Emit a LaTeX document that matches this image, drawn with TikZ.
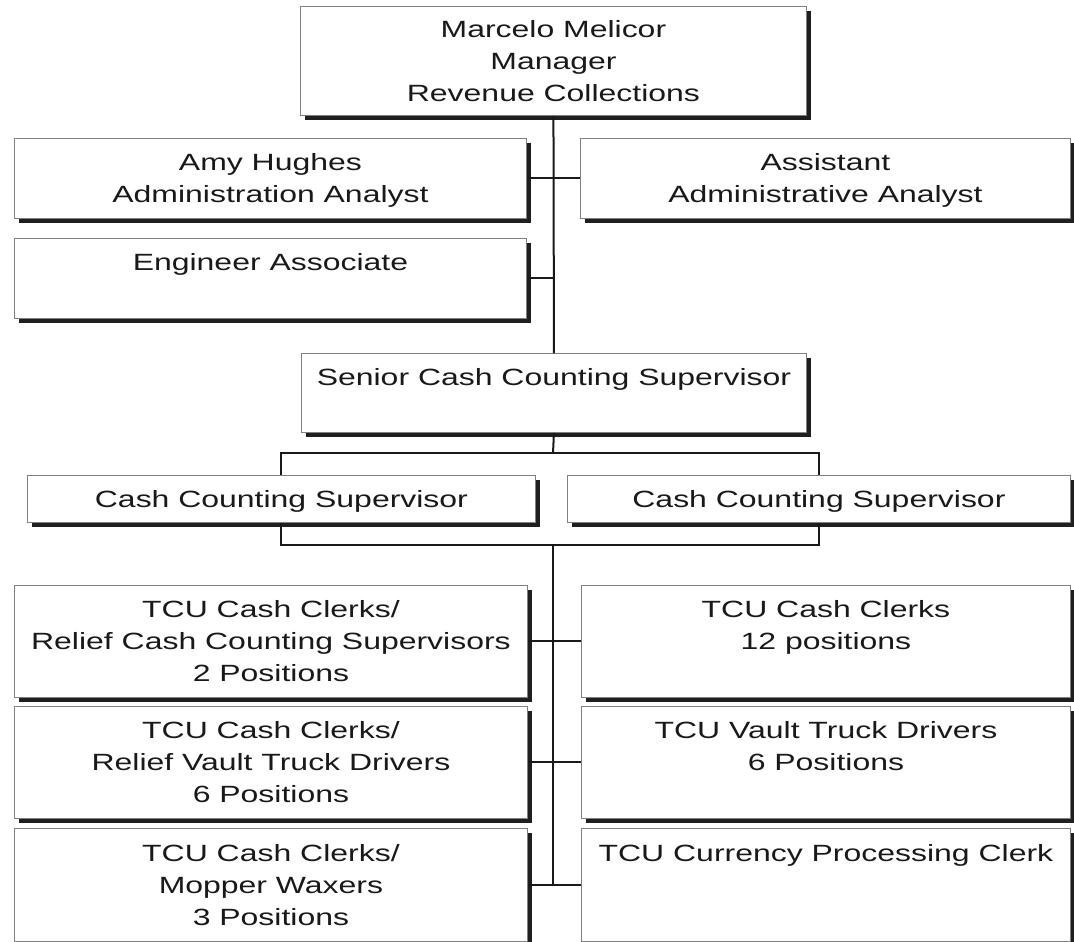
\documentclass[tikz,border=0pt]{standalone}
\usepackage{fontspec}
\setmainfont[FakeStretch=1.36]{Liberation Sans}
\usetikzlibrary{shadows}
\newcommand\lnstrut{\rule[-7.5pt]{0pt}{32pt}}
\begin{document}
\begin{tikzpicture}[x=1pt,y=-1pt,
  orgbox/.style={draw=black!50, line width=0.9pt, fill=white, align=center,
    anchor=north west, inner sep=0pt, text=black!90,
    font=\fontsize{23.5}{32}\selectfont,
    drop shadow={shadow xshift=4.5pt, shadow yshift=-4.5pt, fill=black!88, opacity=1}},
  link/.style={line width=2pt, draw=black!90}]
\useasboundingbox (0,0) rectangle (1074,942);
% top level
\node[orgbox, minimum width=506pt, minimum height=109pt] (top) at (300,6)
  {\lnstrut Marcelo Melicor\\\lnstrut Manager\\\lnstrut Revenue Collections};
\node[orgbox, minimum width=512pt, minimum height=80pt] (amy) at (14,138)
  {\lnstrut Amy Hughes\\\lnstrut Administration Analyst};
\node[orgbox, minimum width=490pt, minimum height=80pt] (asst) at (580,138)
  {\lnstrut Assistant\\\lnstrut Administrative Analyst};
\node[orgbox, minimum width=512pt, minimum height=80pt] (eng) at (14,238)
  {\lnstrut Engineer Associate\\\lnstrut~};
\node[orgbox, minimum width=505pt, minimum height=79pt] (senior) at (301,353)
  {\lnstrut Senior Cash Counting Supervisor\\\lnstrut~};
\node[orgbox, minimum width=508pt, minimum height=47pt] (ccsa) at (27,475)
  {\lnstrut Cash Counting Supervisor};
\node[orgbox, minimum width=503pt, minimum height=47pt] (ccsb) at (567,475)
  {\lnstrut Cash Counting Supervisor};
% rows
\node[orgbox, minimum width=513pt, minimum height=112pt] (ra) at (14,585)
  {\lnstrut TCU Cash Clerks/\\\lnstrut Relief Cash Counting Supervisors\\\lnstrut 2 Positions};
\node[orgbox, minimum width=489pt, minimum height=112pt] (rb) at (581,585)
  {\lnstrut TCU Cash Clerks\\\lnstrut 12 positions\\\lnstrut~};
\node[orgbox, minimum width=513pt, minimum height=112pt] (rc) at (14,706)
  {\lnstrut TCU Cash Clerks/\\\lnstrut Relief Vault Truck Drivers\\\lnstrut 6 Positions};
\node[orgbox, minimum width=489pt, minimum height=112pt] (rd) at (581,706)
  {\lnstrut TCU Vault Truck Drivers\\\lnstrut 6 Positions\\\lnstrut~};
\node[orgbox, minimum width=513pt, minimum height=113pt] (re) at (14,828)
  {\lnstrut TCU Cash Clerks/\\\lnstrut Mopper Waxers\\\lnstrut 3 Positions};
\node[orgbox, minimum width=489pt, minimum height=113pt] (rf) at (581,828)
  {\lnstrut TCU Currency Processing Clerk\\\lnstrut~\\\lnstrut~};
% junction coordinates
\coordinate (bt) at (553,453);
\coordinate (bb) at (553,545);
% connectors
\draw[link] (top.south) -- (senior.north);
\draw[link] (amy.east) -- (asst.west);
\draw[link] (eng.east) -- (eng.east -| top.south);
\draw[link] (senior.south) -- (bt);
\draw[link] (ccsa.north) |- (bt) -| (ccsb.north);
\draw[link] (ccsa.south) |- (bb) -| (ccsb.south);
\draw[link] (bb) -- (bb |- re.east);
\draw[link] (ra.east) -- (rb.west);
\draw[link] (rc.east) -- (rd.west);
\draw[link] (re.east) -- (rf.west);
\end{tikzpicture}
\end{document}
